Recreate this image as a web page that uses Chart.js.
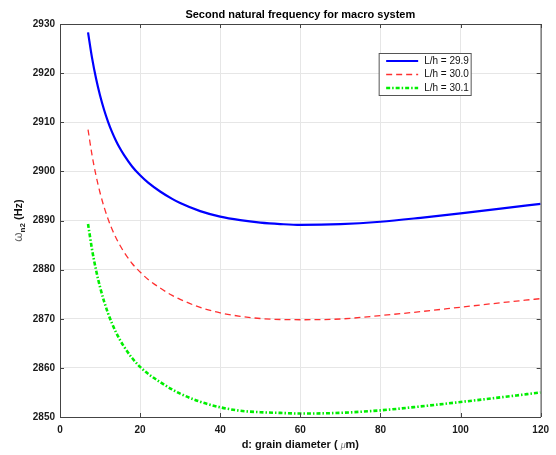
<!DOCTYPE html>
<html lang="en">
<head>
  <meta charset="UTF-8" />
  <title>Second natural frequency for macro system</title>
  <script src="https://cdn.jsdelivr.net/npm/chart.js"></script>
  <style>
    html, body { margin: 0; padding: 0; background: #fff; }
    .wrap { width: 556px; height: 455px; }
  </style>
</head>
<body>
  <div class="wrap"><canvas id="freqChart" width="556" height="455"></canvas></div>

  <script>
    // grain diameter d (um) and second natural frequency (Hz) per L/h ratio
    const grainDiameter = [7, 8, 9, 10, 11, 12, 13, 14, 15, 16, 18, 20, 22, 25, 28, 30, 35, 40, 45, 50, 55, 60, 70, 80, 90, 100, 110, 120];
    const freqLh299 = [2928.3, 2923.1, 2918.9, 2915.45, 2912.55, 2910.1, 2908.0, 2906.2, 2904.65, 2903.3, 2901.0, 2899.2, 2897.7, 2895.9, 2894.4, 2893.55, 2891.9, 2890.78, 2890.07, 2889.58, 2889.28, 2889.1, 2889.25, 2889.75, 2890.55, 2891.45, 2892.4, 2893.4];
    const freqLh300 = [2908.5, 2903.3, 2899.1, 2895.65, 2892.75, 2890.3, 2888.2, 2886.45, 2884.9, 2883.55, 2881.25, 2879.5, 2878.0, 2876.25, 2874.75, 2873.95, 2872.3, 2871.2, 2870.5, 2870.05, 2869.85, 2869.8, 2869.95, 2870.65, 2871.45, 2872.35, 2873.25, 2874.1];
    const freqLh301 = [2889.3, 2884.1, 2879.9, 2876.45, 2873.55, 2871.1, 2869.0, 2867.2, 2865.65, 2864.3, 2862.0, 2860.2, 2858.8, 2857.1, 2855.6, 2854.75, 2853.1, 2851.98, 2851.27, 2850.98, 2850.83, 2850.7, 2850.85, 2851.35, 2852.15, 2853.05, 2854.0, 2855.0];
    const seriesLabels = ['L/h = 29.9', 'L/h = 30.0', 'L/h = 30.1'];
    const xTicks = [0, 20, 40, 60, 80, 100, 120];
    const yTicks = [2850, 2860, 2870, 2880, 2890, 2900, 2910, 2920, 2930];

    const FONT = "'Liberation Sans', Arial, sans-serif";
    const AXIS_COLOR = '#444';

    const toPoints = ys => grainDiameter.map((d, i) => ({ x: d, y: ys[i] }));

    // draws the text pieces one after another on a common baseline
    function drawRuns(ctx, runs, x, y) {
      let cx = x;
      runs.forEach(r => {
        ctx.font = r.font;
        ctx.fillStyle = r.color;
        ctx.fillText(r.text, cx, y + (r.dy || 0));
        cx += ctx.measureText(r.text).width;
      });
    }
    function runsWidth(ctx, runs) {
      return runs.reduce((w, r) => { ctx.font = r.font; return w + ctx.measureText(r.text).width; }, 0);
    }

    const figureDecor = {
      id: 'figureDecor',
      afterDraw(chart) {
        const { ctx, chartArea: area, scales } = chart;
        ctx.save();

        // box on top/right + inward ticks on every side
        ctx.strokeStyle = AXIS_COLOR;
        ctx.lineWidth = 1;
        ctx.beginPath();
        ctx.moveTo(area.left, area.top + 0.5);
        ctx.lineTo(area.right + 0.5, area.top + 0.5);
        ctx.lineTo(area.right + 0.5, area.bottom);
        const tl = 4;
        xTicks.forEach(v => {
          const px = Math.round(scales.x.getPixelForValue(v)) + 0.5;
          ctx.moveTo(px, area.bottom); ctx.lineTo(px, area.bottom - tl);
          ctx.moveTo(px, area.top); ctx.lineTo(px, area.top + tl);
        });
        yTicks.forEach(v => {
          const py = Math.round(scales.y.getPixelForValue(v)) + 0.5;
          ctx.moveTo(area.left, py); ctx.lineTo(area.left + tl, py);
          ctx.moveTo(area.right, py); ctx.lineTo(area.right - tl, py);
        });
        ctx.stroke();

        // title
        const midX = (area.left + area.right) / 2;
        ctx.textAlign = 'center';
        ctx.textBaseline = 'alphabetic';
        ctx.font = 'bold 11px ' + FONT;
        ctx.fillStyle = '#000';
        ctx.fillText('Second natural frequency for macro system', midX, 18);

        // x axis title
        ctx.textAlign = 'left';
        const xRuns = [
          { text: 'd: grain diameter ( ', font: 'bold 11px ' + FONT, color: '#111' },
          { text: 'μ', font: 'italic 9px ' + FONT, color: '#777' },
          { text: 'm)', font: 'bold 11px ' + FONT, color: '#111' }
        ];
        drawRuns(ctx, xRuns, midX - runsWidth(ctx, xRuns) / 2, 448);

        // y axis title, rotated
        const yRuns = [
          { text: 'ω', font: '12px ' + FONT, color: '#666' },
          { text: 'n2', font: 'bold 8px ' + FONT, color: '#222', dy: 3 },
          { text: ' (Hz)', font: 'bold 11px ' + FONT, color: '#111' }
        ];
        ctx.translate(22, (area.top + area.bottom) / 2);
        ctx.rotate(-Math.PI / 2);
        drawRuns(ctx, yRuns, -runsWidth(ctx, yRuns) / 2, 0);
        ctx.setTransform(1, 0, 0, 1, 0, 0);

        // legend box in the upper right of the axes
        const lx = area.right - 161.5, ly = area.top + 29.5, lw = 92, lh = 42;
        ctx.fillStyle = '#fff';
        ctx.fillRect(lx, ly, lw, lh);
        ctx.strokeStyle = '#555';
        ctx.strokeRect(lx, ly, lw, lh);
        ctx.font = '10px ' + FONT;
        ctx.textBaseline = 'middle';
        chart.data.datasets.forEach((ds, i) => {
          const ry = ly + 7.5 + i * 13.5;
          ctx.beginPath();
          ctx.setLineDash(ds.borderDash || []);
          ctx.strokeStyle = ds.borderColor;
          ctx.lineWidth = ds.borderWidth;
          ctx.moveTo(lx + 7, ry);
          ctx.lineTo(lx + 39, ry);
          ctx.stroke();
          ctx.setLineDash([]);
          ctx.fillStyle = '#111';
          ctx.fillText(ds.label, lx + 45, ry);
        });
        ctx.restore();
      }
    };

    const tickFont = { family: FONT, size: 10, weight: 'bold' };

    new Chart(document.getElementById('freqChart'), {
      type: 'line',
      data: {
        datasets: [
          { label: seriesLabels[0], data: toPoints(freqLh299), borderColor: '#0000ff', borderWidth: 2.2 },
          { label: seriesLabels[1], data: toPoints(freqLh300), borderColor: '#ff3030', borderWidth: 1.3, borderDash: [6, 4] },
          { label: seriesLabels[2], data: toPoints(freqLh301), borderColor: '#00ee00', borderWidth: 2.6, borderDash: [4, 2, 1.5, 2] }
        ]
      },
      options: {
        responsive: false,
        animation: false,
        devicePixelRatio: 1,
        layout: { padding: { top: 24, right: 12, left: 0, bottom: 0 } },
        elements: {
          point: { radius: 0 },
          line: { cubicInterpolationMode: 'monotone', fill: false }
        },
        plugins: {
          legend: { display: false },
          title: { display: false },
          tooltip: { enabled: false }
        },
        scales: {
          x: {
            type: 'linear',
            min: 0,
            max: 120,
            afterBuildTicks: s => { s.ticks = xTicks.map(v => ({ value: v })); },
            afterFit: s => { s.height = 38; },
            grid: { color: '#e6e6e6', drawTicks: false },
            border: { display: true, color: AXIS_COLOR },
            ticks: { padding: 7, font: tickFont, color: '#1a1a1a', maxRotation: 0 }
          },
          y: {
            type: 'linear',
            min: 2850,
            max: 2930,
            afterBuildTicks: s => { s.ticks = yTicks.map(v => ({ value: v })); },
            afterFit: s => { s.width = 60; },
            grid: { color: '#e6e6e6', drawTicks: false },
            border: { display: true, color: AXIS_COLOR },
            ticks: { padding: 5, font: tickFont, color: '#1a1a1a', callback: v => String(v) }
          }
        }
      },
      plugins: [figureDecor]
    });
  </script>
</body>
</html>
